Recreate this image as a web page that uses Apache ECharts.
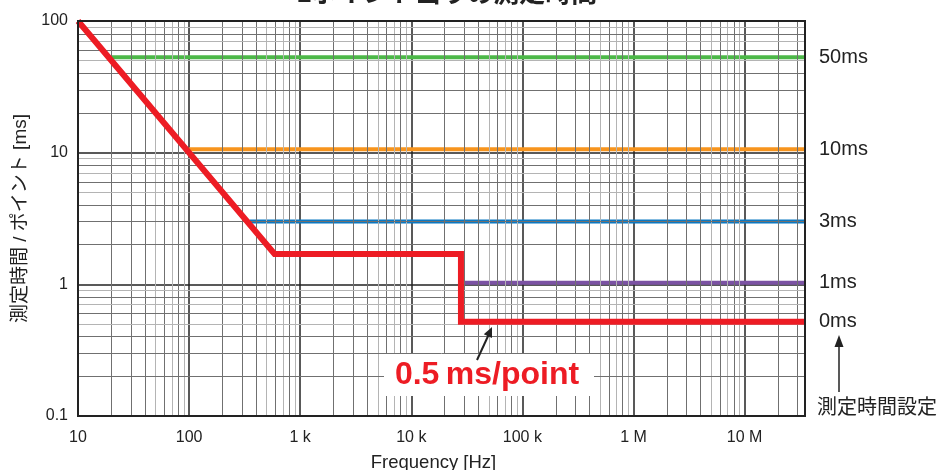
<!DOCTYPE html>
<html><head><meta charset="utf-8">
<script src="https://cdn.jsdelivr.net/npm/echarts@6/dist/echarts.min.js"></script>
<style>html,body{margin:0;padding:0;background:#fff}#c{width:942px;height:470px}</style>
</head><body><div id="c"></div>
<script>
// ---- data ----
const xTickLabels = ['10', '100', '1 k', '10 k', '100 k', '1 M', '10 M'];
const yTickLabels = ['0.1', '1', '10', '100'];
const xMin = 10, xMax = 3.5e7, yMin = 0.1, yMax = 100;

const seriesNames = ['50ms', '10ms', '3ms', '1ms', '0ms'];
const greenX = [20, 3.5e7];   const greenY = [53, 53];
const orangeX = [100, 3.5e7]; const orangeY = [10.6, 10.6];
const blueX = [350, 3.5e7];   const blueY = [3.0, 3.0];
const purpleX = [30000, 3.5e7]; const purpleY = [1.03, 1.03];
const redX = [10, 588, 28000, 28000, 3.5e7];
const redY = [100, 1.7, 1.7, 0.52, 0.52];

const minorMult = [2, 3, 4, 5, 6, 7, 8, 9];
const darkMult = [2, 3, 4, 6, 8];
const xDecades = [10, 100, 1000, 1e4, 1e5, 1e6, 1e7];
const yDecades = [0.1, 1, 10];

// ---- build ----
const FONT = '"Liberation Sans", "Noto Sans CJK JP", sans-serif';
const zip = (xs, ys) => xs.map((x, i) => [x, ys[i]]);
const colors = ['#4cb848', '#f7941d', '#0a78c2', '#7b52a3', '#ed1c24'];
const sets = [[greenX, greenY], [orangeX, orangeY], [blueX, blueY], [purpleX, purpleY], [redX, redY]];

const gridMarks = [];
xDecades.forEach(d => minorMult.forEach(m => {
  const v = d * m;
  if (v < xMax) gridMarks.push({ xAxis: v, lineStyle: { color: darkMult.includes(m) ? '#707070' : '#b4b4b4', width: 1, type: 'solid' } });
}));
yDecades.forEach(d => minorMult.forEach(m => {
  const v = d * m;
  if (v < yMax) gridMarks.push({ yAxis: v, lineStyle: { color: darkMult.includes(m) ? '#707070' : '#b4b4b4', width: 1, type: 'solid' } });
}));

const series = [{
  type: 'line', data: [], silent: true, z: 1,
  markLine: { silent: true, symbol: 'none', label: { show: false }, animation: false, data: gridMarks }
}];
sets.forEach((s, i) => {
  series.push({
    type: 'line', name: seriesNames[i], data: zip(s[0], s[1]),
    showSymbol: false, symbol: 'none', z: i === 4 ? 5 : 3,
    lineStyle: { color: colors[i], width: i === 4 ? 6 : 4, cap: 'butt', join: 'miter' },
    endLabel: { show: true, formatter: seriesNames[i], distance: 14, color: '#222', fontSize: 20, fontFamily: FONT },
    animation: false
  });
});

const chart = echarts.init(document.getElementById('c'));
chart.setOption({
  animation: false,
  title: { text: '1ポイント当りの測定時間', left: 442, textAlign: 'center', top: -23,
    textStyle: { fontSize: 26, fontWeight: 'bold', color: '#222', fontFamily: FONT } },
  grid: { left: 78, right: 137, top: 21, bottom: 54, show: true, borderColor: '#222', borderWidth: 2, z: 10,
    containLabel: false, outerBoundsMode: 'none' },
  xAxis: {
    type: 'log', logBase: 10, min: xMin, max: xMax,
    name: 'Frequency [Hz]', nameLocation: 'middle', nameGap: 38,
    nameTextStyle: { fontSize: 18.5, color: '#222', fontFamily: FONT, padding: [0, 16, 0, 0] },
    axisLine: { show: false }, axisTick: { show: false },
    axisLabel: { fontSize: 16, color: '#222', margin: 14, fontFamily: FONT, showMaxLabel: false,
      formatter: v => { const e = Math.log10(v); const r = Math.round(e); return Math.abs(e - r) < 1e-6 ? (xTickLabels[r - 1] || '') : ''; } },
    splitLine: { show: true, lineStyle: { color: '#222', width: 1.5 } }
  },
  yAxis: {
    type: 'log', logBase: 10, min: yMin, max: yMax,
    name: '測定時間 / ポイント [ms]', nameLocation: 'middle', nameGap: 44, nameRotate: 90,
    nameTextStyle: { fontSize: 19, color: '#222', fontFamily: FONT },
    axisLine: { show: false }, axisTick: { show: false },
    axisLabel: { fontSize: 16, color: '#222', margin: 10, fontFamily: FONT,
      formatter: v => { const e = Math.log10(v); const r = Math.round(e); return Math.abs(e - r) < 1e-6 ? (yTickLabels[r + 1] || '') : ''; } },
    splitLine: { show: true, lineStyle: { color: '#222', width: 1.5 } }
  },
  series: series,
  graphic: [
    { type: 'rect', shape: { x: 384, y: 354, width: 210, height: 42 }, style: { fill: '#fff' }, z: 20 },
    { type: 'text', x: 487, y: 375, z: 21, style: { text: '0.5\u2009ms/point', fill: '#ed1c24', font: 'bold 32px ' + FONT, textAlign: 'center', textVerticalAlign: 'middle' } },
    { type: 'line', z: 21, shape: { x1: 477, y1: 360, x2: 489, y2: 334 }, style: { stroke: '#222', lineWidth: 2 } },
    { type: 'polygon', z: 21, shape: { points: [[492, 327], [492.0, 338.0], [483.8, 334.2]] }, style: { fill: '#222' } },
    { type: 'line', z: 21, shape: { x1: 839, y1: 392, x2: 839, y2: 344 }, style: { stroke: '#222', lineWidth: 1.5 } },
    { type: 'polygon', z: 21, shape: { points: [[839, 335], [834.5, 347], [843.5, 347]] }, style: { fill: '#222' } },
    { type: 'text', x: 817, y: 408, z: 21, style: { text: '測定時間設定', fill: '#222', font: '20px ' + FONT, textAlign: 'left', textVerticalAlign: 'middle' } }
  ]
});
</script></body></html>
